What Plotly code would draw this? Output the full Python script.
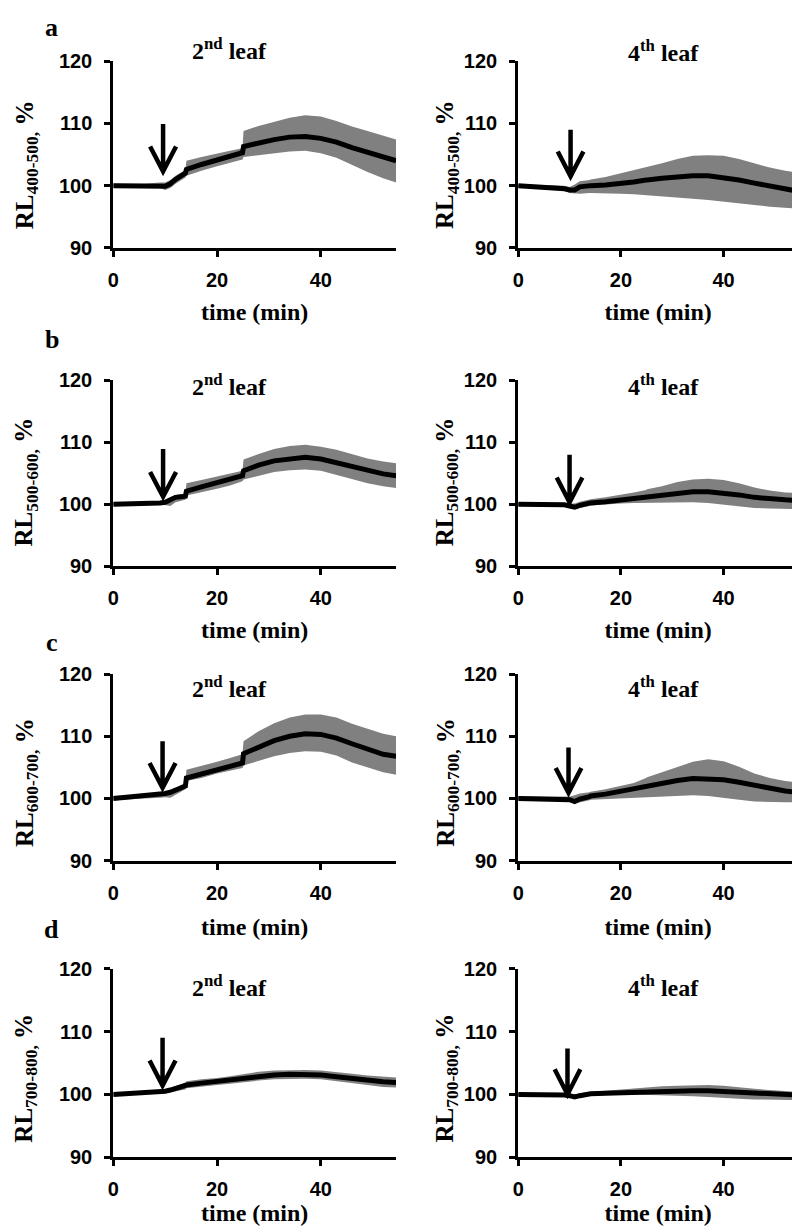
import plotly.graph_objects as go

# ---------------- data ----------------
T = [0, 3, 6, 9, 10, 11, 12, 13.9, 14.1, 17, 20, 22.5, 24.9, 25.1,
     28, 31, 34, 37, 40, 43, 46, 49, 52, 54.5]

# a) RL 400-500, 2nd leaf
a2_mean = [100, 100, 100, 100, 99.9, 100.3, 101.0, 102.0, 102.6, 103.4, 104.1, 104.6, 105.3, 106.3,
           106.9, 107.4, 107.8, 107.9, 107.6, 107.0, 106.1, 105.3, 104.6, 104.0]
a2_hi = [100.3, 100.3, 100.3, 100.5, 100.5, 100.9, 101.6, 102.5, 104.0, 104.6, 105.2, 105.6, 106.0, 108.8,
         109.6, 110.3, 110.9, 111.3, 111.1, 110.4, 109.5, 108.8, 108.0, 107.4]
a2_lo = [99.7, 99.7, 99.7, 99.6, 99.3, 99.6, 100.3, 101.3, 101.6, 102.4, 103.1, 103.6, 104.2, 104.6,
         104.9, 105.2, 105.5, 105.6, 105.2, 104.5, 103.4, 102.2, 101.2, 100.5]
# a) RL 400-500, 4th leaf
a4_mean = [100, 99.9, 99.7, 99.5, 99.3, 99.3, 99.8, 100.0, 100.0, 100.1, 100.3, 100.6, 100.9, 100.9,
           101.2, 101.5, 101.6, 101.6, 101.3, 100.9, 100.4, 99.9, 99.4, 99.1]
a4_hi = [100.2, 100.2, 100.1, 100.0, 99.8, 100.2, 100.7, 100.9, 101.0, 101.4, 102.0, 102.5, 102.9, 103.0,
         103.6, 104.3, 104.8, 104.9, 104.8, 104.3, 103.6, 102.9, 102.4, 102.1]
a4_lo = [99.8, 99.7, 99.5, 99.2, 98.8, 98.7, 98.7, 98.8, 98.8, 98.8, 98.7, 98.6, 98.5, 98.5,
         98.3, 98.1, 97.9, 97.7, 97.5, 97.2, 96.9, 96.6, 96.4, 96.3]
# b) RL 500-600, 2nd leaf
b2_mean = [100, 100, 100.1, 100.2, 100.3, 100.8, 101.1, 101.3, 102.1, 102.8, 103.5, 104.0, 104.6, 105.4,
           106.3, 107.0, 107.4, 107.6, 107.3, 106.7, 106.0, 105.4, 104.9, 104.6]
b2_hi = [100.2, 100.2, 100.3, 100.4, 100.5, 101.1, 101.5, 101.7, 103.4, 103.9, 104.5, 104.9, 105.4, 107.2,
         108.1, 108.9, 109.4, 109.6, 109.3, 108.8, 108.1, 107.4, 106.9, 106.6]
b2_lo = [99.8, 99.8, 99.9, 100.0, 99.9, 99.7, 100.3, 100.7, 101.4, 101.9, 102.5, 103.0, 103.7, 104.0,
         104.6, 105.2, 105.5, 105.6, 105.4, 104.8, 104.1, 103.4, 102.9, 102.6]
# b) RL 500-600, 4th leaf
b4_mean = [100, 100, 100, 99.9, 99.7, 99.5, 99.8, 100.1, 100.2, 100.4, 100.7, 100.9, 101.1, 101.1,
           101.5, 101.8, 102.0, 102.0, 101.8, 101.5, 101.1, 100.8, 100.7, 100.6]
b4_hi = [100.2, 100.2, 100.2, 100.2, 100.1, 100.1, 100.4, 100.7, 100.8, 101.1, 101.5, 101.9, 102.3, 102.4,
         102.9, 103.6, 104.0, 104.1, 103.9, 103.4, 102.7, 102.2, 101.9, 101.8]
b4_lo = [99.8, 99.8, 99.8, 99.7, 99.4, 99.2, 99.3, 99.7, 99.8, 100.0, 100.1, 100.2, 100.3, 100.3,
         100.3, 100.3, 100.3, 100.2, 100.0, 99.7, 99.4, 99.3, 99.2, 99.2]
# c) RL 600-700, 2nd leaf
c2_mean = [100, 100.2, 100.4, 100.6, 100.8, 101.0, 101.3, 102.0, 103.3, 103.9, 104.6, 105.1, 105.7, 107.2,
           108.3, 109.3, 110.0, 110.4, 110.3, 109.7, 108.8, 107.9, 107.1, 106.8]
c2_hi = [100.4, 100.5, 100.6, 100.9, 101.1, 101.3, 101.7, 102.5, 104.6, 105.2, 105.9, 106.5, 107.1, 109.2,
         110.8, 112.1, 113.0, 113.5, 113.5, 113.0, 112.0, 111.2, 110.4, 110.0]
c2_lo = [99.7, 99.8, 100.0, 100.1, 100.2, 100.1, 100.5, 101.5, 102.8, 103.3, 104.0, 104.5, 104.9, 105.3,
         106.1, 106.8, 107.3, 107.6, 107.5, 106.9, 105.8, 105.0, 104.2, 103.8]
# c) RL 600-700, 4th leaf
c4_mean = [100, 100, 100, 99.9, 99.8, 99.5, 99.9, 100.3, 100.4, 100.7, 101.2, 101.5, 101.9, 101.9,
           102.4, 102.9, 103.2, 103.2, 103.0, 102.6, 102.1, 101.6, 101.2, 101.0]
c4_hi = [100.4, 100.3, 100.3, 100.3, 100.3, 100.5, 100.8, 101.0, 101.1, 101.5, 102.0, 102.5, 103.3, 103.4,
         104.2, 105.1, 105.9, 106.3, 106.0, 105.1, 104.0, 103.3, 102.8, 102.6]
c4_lo = [99.8, 99.8, 99.8, 99.7, 99.5, 99.2, 99.3, 99.7, 99.8, 99.9, 100.0, 100.1, 100.2, 100.2,
         100.3, 100.4, 100.5, 100.4, 100.1, 99.8, 99.5, 99.4, 99.4, 99.4]
# d) RL 700-800, 2nd leaf
d2_mean = [100, 100.1, 100.2, 100.4, 100.5, 100.7, 100.9, 101.3, 101.5, 101.8, 102.1, 102.3, 102.6, 102.6,
           102.9, 103.1, 103.2, 103.2, 103.1, 102.8, 102.5, 102.2, 102.0, 101.9]
d2_hi = [100.2, 100.3, 100.4, 100.6, 100.8, 101.0, 101.3, 101.8, 102.1, 102.4, 102.6, 102.9, 103.2, 103.2,
         103.6, 103.8, 103.9, 103.9, 103.8, 103.6, 103.3, 103.0, 102.8, 102.7]
d2_lo = [99.8, 99.9, 100.0, 100.2, 100.2, 100.3, 100.5, 100.8, 101.0, 101.2, 101.5, 101.7, 101.9, 101.9,
         102.2, 102.4, 102.5, 102.5, 102.4, 102.1, 101.8, 101.5, 101.2, 101.1]
# d) RL 700-800, 4th leaf
d4_mean = [100, 100, 99.9, 99.9, 99.8, 99.6, 99.8, 100.0, 100.1, 100.2, 100.3, 100.4, 100.4, 100.4,
           100.5, 100.6, 100.6, 100.6, 100.5, 100.3, 100.2, 100.1, 100.0, 99.9]
d4_hi = [100.2, 100.2, 100.2, 100.1, 100.1, 100.0, 100.2, 100.4, 100.4, 100.6, 100.8, 101.0, 101.1, 101.1,
         101.3, 101.4, 101.5, 101.5, 101.4, 101.1, 100.9, 100.7, 100.5, 100.4]
d4_lo = [99.8, 99.8, 99.7, 99.7, 99.6, 99.4, 99.5, 99.8, 99.8, 99.9, 100.0, 100.0, 99.9, 99.9,
         99.9, 99.8, 99.7, 99.6, 99.5, 99.3, 99.2, 99.1, 99.1, 99.1]

# treatment arrows: time, arrow top, arrow tip (per panel, same order as below)
arrow_t = [9.6, 10.2, 9.6, 10.0, 9.5, 9.8, 9.5, 9.6]
arrow_top = [109.9, 109.0, 108.9, 108.0, 109.2, 108.2, 109.0, 107.3]
arrow_tip = [102.3, 101.5, 101.2, 100.3, 101.7, 100.9, 101.4, 100.0]

row_letters = ["a", "b", "c", "d"]
bands = ["400-500", "500-600", "600-700", "700-800"]
leaf_titles = ["2<sup>nd</sup> leaf", "4<sup>th</sup> leaf"]
x_ticks = [0, 20, 40]
y_ticks = [90, 100, 110, 120]
x_range = [0, 54.5]
y_range = [90, 120]

series = [
    (a2_mean, a2_lo, a2_hi), (a4_mean, a4_lo, a4_hi),
    (b2_mean, b2_lo, b2_hi), (b4_mean, b4_lo, b4_hi),
    (c2_mean, c2_lo, c2_hi), (c4_mean, c4_lo, c4_hi),
    (d2_mean, d2_lo, d2_hi), (d4_mean, d4_lo, d4_hi),
]

# ---------------- layout geometry (pixels) ----------------
W, H = 800, 1231
col_px = [(100, 385), (508, 790)]
row_px = [(43, 233), (368, 557), (667, 857), (967, 1159)]
xtitle_standoff = [14, 14, 16, 4]
title_x_px = [217, 654]
title_y_px = [31, 373, 680, 985]
ytitle_x_px = [12, 436]
ytitle_y_px = [148, 471, 777, 1078]
letter_x_px = 38
letter_y_px = [9, 326, 635, 927]

def px_x(p):
    return p / W

def px_y(p):
    return 1 - p / H

SERIF = "Liberation Serif, Times New Roman, serif"
SANS = "Liberation Sans, Arial, sans-serif"
BAND_COLOR = "#808080"

fig = go.Figure()
annotations = []
shapes = []

for i, (mean, lo, hi) in enumerate(series):
    r, c = divmod(i, 2)
    n = i + 1
    xa = "x" if n == 1 else f"x{n}"
    ya = "y" if n == 1 else f"y{n}"
    # band
    fig.add_trace(go.Scatter(
        x=T + T[::-1], y=hi + lo[::-1], fill="toself", fillcolor=BAND_COLOR,
        line=dict(width=0, color=BAND_COLOR), mode="lines", hoverinfo="skip",
        showlegend=False, xaxis=xa, yaxis=ya))
    # mean line
    fig.add_trace(go.Scatter(
        x=T, y=mean, mode="lines", line=dict(color="black", width=5),
        showlegend=False, xaxis=xa, yaxis=ya))

    x0, x1 = col_px[c]
    y0, y1 = row_px[r]
    axis_common = dict(showline=True, linecolor="black", linewidth=3, ticks="outside",
                       ticklen=6, tickwidth=3, tickcolor="black", showgrid=False,
                       zeroline=False, fixedrange=True,
                       tickfont=dict(family=SANS, size=20, color="black", weight="bold"))
    fig.layout[f"xaxis{'' if n == 1 else n}"] = dict(
        domain=[px_x(x0), px_x(x1)], anchor=ya, range=x_range, tickvals=x_ticks,
        ticklabelstandoff=6,
        title=dict(text="time (min)", standoff=xtitle_standoff[r],
                   font=dict(family=SERIF, size=24, color="black", weight="bold")),
        **axis_common)
    fig.layout[f"yaxis{'' if n == 1 else n}"] = dict(
        domain=[px_y(y1), px_y(y0)], anchor=xa, range=y_range, tickvals=y_ticks,
        ticklabelstandoff=8, **axis_common)

    # panel title
    annotations.append(dict(
        text=leaf_titles[c], x=px_x(title_x_px[c]), y=px_y(title_y_px[r] + (2 if (r == 0 and c == 1) else 0)),
        xref="paper", yref="paper", xanchor="center", yanchor="middle", showarrow=False,
        font=dict(family=SERIF, size=24, color="black", weight="bold")))
    # y axis title
    annotations.append(dict(
        text=f"RL<sub>{bands[r]},</sub> %", x=px_x(ytitle_x_px[c]), y=px_y(ytitle_y_px[r]),
        xref="paper", yref="paper", xanchor="center", yanchor="middle", showarrow=False,
        textangle=-90, font=dict(family=SERIF, size=25, color="black", weight="bold")))

    # arrow marking treatment
    t, top, tip = arrow_t[i], arrow_top[i], arrow_tip[i]
    hw, hh = 2.5, 4.0
    shapes.append(dict(
        type="path", xref=xa, yref=ya,
        path=f"M {t - hw},{tip + hh} L {t},{tip} L {t + hw},{tip + hh} M {t},{top} L {t},{tip}",
        line=dict(color="black", width=4.5)))

for r, letter in enumerate(row_letters):
    annotations.append(dict(
        text=letter, x=px_x(letter_x_px), y=px_y(letter_y_px[r]), xref="paper", yref="paper",
        xanchor="center", yanchor="middle", showarrow=False,
        font=dict(family=SERIF, size=26, color="black", weight="bold")))

fig.update_layout(
    width=W, height=H, autosize=False,
    margin=dict(l=0, r=0, t=0, b=0),
    paper_bgcolor="white", plot_bgcolor="white",
    annotations=annotations, shapes=shapes, showlegend=False,
)

fig.write_html("out.html")
